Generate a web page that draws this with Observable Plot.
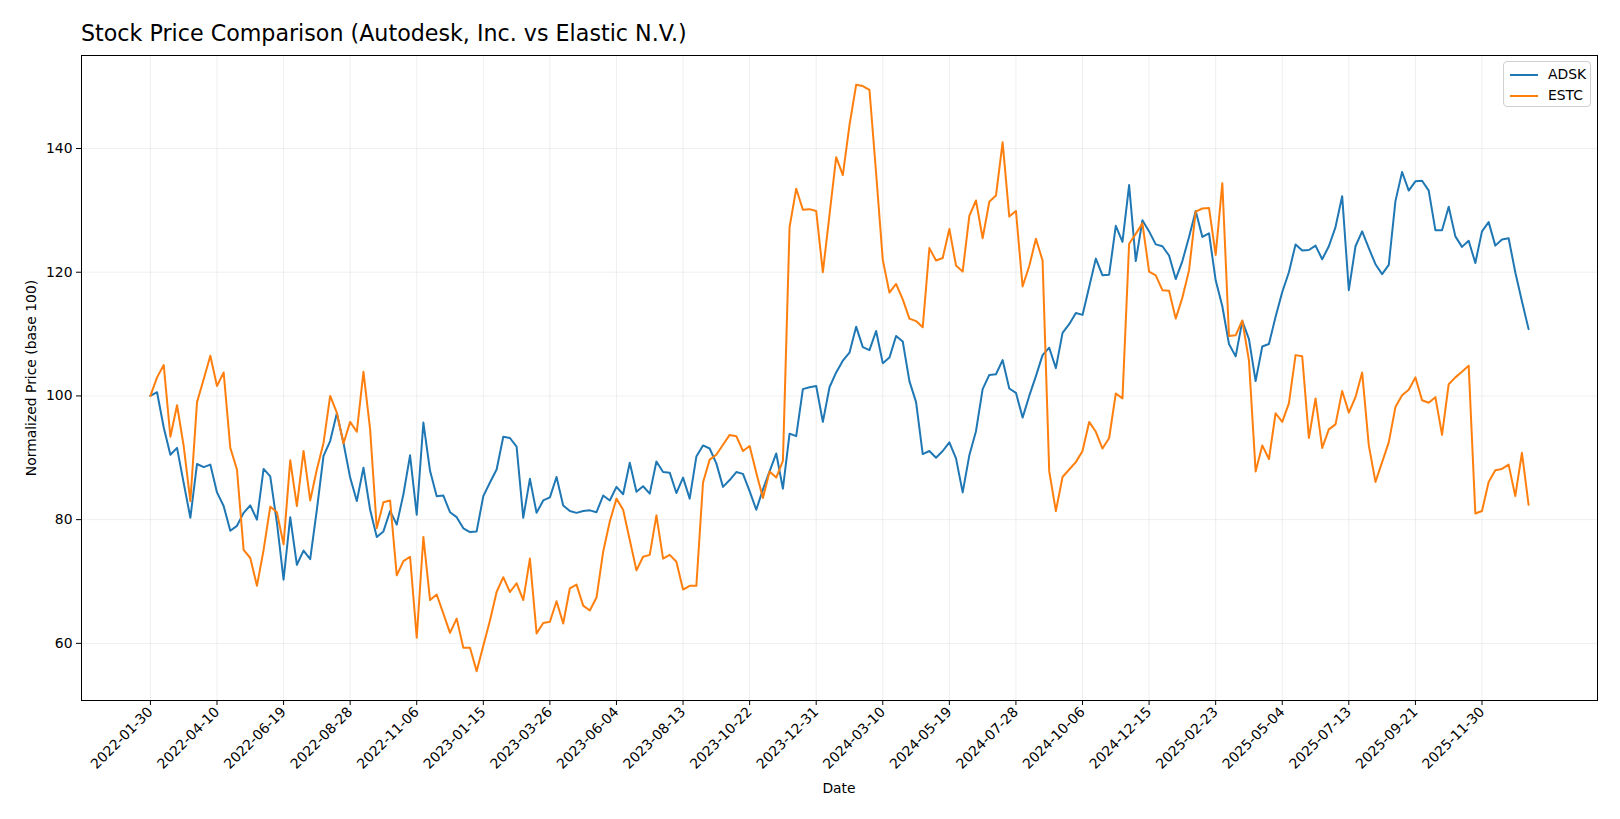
<!DOCTYPE html>
<html>
<head>
<meta charset="utf-8">
<script src="https://cdn.jsdelivr.net/npm/d3@7"></script>
<script src="https://cdn.jsdelivr.net/npm/@observablehq/plot@0.6"></script>
<style>
  html, body { margin: 0; padding: 0; background: #fff; overflow: hidden; }
  #wrap { position: relative; width: 1620px; height: 819px; font-family: "DejaVu Sans", sans-serif; overflow: hidden; }
  #chart { position: absolute; left: 0; top: 0; width: 1620px; height: 819px; }
  #chart svg { max-width: none !important; display: block; }
  #title { position: absolute; left: 81px; top: 22px; font-size: 22.2px; line-height: 22px; white-space: nowrap; color: #000; }
  #xlabel { position: absolute; left: 839px; top: 781px; transform: translateX(-50%); font-size: 13.9px; line-height: 14px; }
  #ylabel { position: absolute; left: 31px; top: 378px; transform: translate(-50%, -50%) rotate(-90deg); font-size: 13.9px; line-height: 14px; white-space: nowrap; }
  #legend { position: absolute; left: 1503px; top: 61px; width: 86px; height: 44px; border: 1px solid #d0d0d0; border-radius: 4px; background: rgba(255,255,255,0.85); font-size: 13.9px; }
  .row { position: absolute; left: 6px; height: 16px; line-height: 16px; white-space: nowrap; }
  .sw { display: inline-block; width: 28px; height: 2px; vertical-align: middle; margin-right: 10px; }
</style>
</head>
<body>
<div id="wrap">
  <div id="chart"></div>
  <div id="title">Stock Price Comparison (Autodesk, Inc. vs Elastic N.V.)</div>
  <div id="xlabel">Date</div>
  <div id="ylabel">Normalized Price (base 100)</div>
  <div id="legend">
    <div class="row" style="top:4px"><span class="sw" style="background:#1f77b4"></span>ADSK</div>
    <div class="row" style="top:25px"><span class="sw" style="background:#ff7f0e"></span>ESTC</div>
  </div>
</div>
<script>
const startDate = "2022-01-30";
const seriesNames = ["ADSK", "ESTC"];
const seriesColors = ["#1f77b4", "#ff7f0e"];

const adsk = [100,100.6,94.9,90.5,91.6,85.9,80.3,89.0,88.5,88.9,84.4,82.2,78.2,79.0,81.1,82.3,80.0,88.2,87.0,79.5,
70.3,80.4,72.7,75.0,73.6,81.6,90.3,92.7,97.2,92.4,86.8,83.0,88.4,81.6,77.2,78.1,81.4,79.2,84.1,90.4,
80.8,95.7,87.9,83.8,83.9,81.2,80.4,78.6,78.0,78.1,83.8,86.0,88.1,93.4,93.2,91.8,80.3,86.6,81.1,83.1,
83.6,86.9,82.3,81.4,81.1,81.4,81.5,81.2,83.9,83.1,85.3,84.1,89.2,84.5,85.4,84.2,89.4,87.7,87.6,84.3,
86.8,83.4,90.2,92.0,91.5,89.1,85.3,86.4,87.7,87.4,84.6,81.6,84.9,87.8,90.7,85.0,93.9,93.5,101.1,101.4,
101.6,95.8,101.4,103.8,105.7,107.0,111.2,107.9,107.4,110.5,105.3,106.2,109.7,108.8,102.4,99.0,90.6,91.1,90.0,91.1,
92.5,89.9,84.4,90.4,94.3,101.1,103.4,103.5,105.8,101.2,100.5,96.5,100.0,103.2,106.6,107.8,104.5,110.2,111.6,113.4,
113.1,117.6,122.2,119.5,119.6,127.5,124.9,134.1,121.8,128.4,126.6,124.5,124.2,122.7,118.9,121.8,125.7,129.9,125.7,126.3,
118.7,114.5,108.4,106.4,112.1,109.2,102.4,108.0,108.4,112.8,116.8,120.0,124.5,123.5,123.6,124.3,122.1,124.2,127.3,132.3,
117.1,124.2,126.6,123.9,121.3,119.7,121.2,131.5,136.2,133.2,134.7,134.8,133.2,126.8,126.8,130.6,125.8,124.1,125.1,121.5,
126.6,128.1,124.3,125.3,125.5,120.0,115.3,110.8];

const estc = [100,103.0,105.0,93.4,98.5,91.9,83.0,99.0,102.7,106.5,101.6,103.8,91.6,88.1,75.1,73.8,69.3,75.1,82.1,81.2,
76.0,89.6,82.2,91.1,83.1,88.1,92.4,100.0,97.3,92.3,95.8,94.2,103.9,94.6,78.6,82.8,83.1,71.0,73.3,74.0,
60.9,77.2,67.0,67.9,64.8,61.7,64.0,59.3,59.3,55.5,59.6,63.7,68.3,70.7,68.3,69.7,67.0,73.7,61.6,63.3,
63.5,66.8,63.2,68.9,69.5,66.1,65.3,67.4,74.8,79.7,83.4,81.6,76.7,71.8,74.0,74.3,80.7,73.7,74.3,73.2,
68.7,69.3,69.3,86.0,89.7,90.5,92.1,93.7,93.5,91.1,91.9,87.6,83.5,87.8,86.8,89.5,127.3,133.5,130.1,130.2,
129.9,120.0,129.3,138.6,135.7,143.8,150.3,150.1,149.5,136.0,122.0,116.7,118.1,115.6,112.5,112.1,111.1,123.9,121.9,122.3,
127.0,121.1,120.1,129.1,131.6,125.5,131.4,132.4,141.0,129.0,129.9,117.7,121.0,125.4,121.9,87.8,81.4,86.9,88.1,89.3,
91.1,95.8,94.2,91.5,93.2,100.4,99.6,124.6,126.2,127.9,120.1,119.5,117.1,117.0,112.5,115.9,120.3,129.8,130.3,130.4,
122.8,134.4,109.7,109.8,112.2,105.7,87.8,92.0,89.8,97.2,95.8,98.8,106.6,106.4,93.2,99.6,91.6,94.6,95.4,100.8,
97.3,99.8,103.8,92.0,86.1,89.3,92.5,98.2,100.1,101.0,103.0,99.3,98.9,99.8,93.7,101.9,103.0,103.9,104.9,81.0,
81.4,86.1,88.0,88.2,88.9,83.8,90.8,82.4];

const xTickLabels = ["2022-01-30","2022-04-10","2022-06-19","2022-08-28","2022-11-06","2023-01-15","2023-03-26",
"2023-06-04","2023-08-13","2023-10-22","2023-12-31","2024-03-10","2024-05-19","2024-07-28","2024-10-06",
"2024-12-15","2025-02-23","2025-05-04","2025-07-13","2025-09-21","2025-11-30"];
const yTicks = [60, 80, 100, 120, 140];

const t0 = new Date(startDate + "T00:00:00Z");
const dates = adsk.map((_, i) => d3.utcDay.offset(t0, 7 * i));
const rows = [];
[adsk, estc].forEach((vals, s) => vals.forEach((v, i) => rows.push({date: dates[i], value: v, series: seriesNames[s]})));
const xTicks = xTickLabels.map(s => new Date(s + "T00:00:00Z"));

const span = dates[dates.length - 1] - dates[0];
const xDomain = [new Date(+dates[0] - span * 0.05), new Date(+dates[dates.length - 1] + span * 0.05)];
const allVals = adsk.concat(estc);
const ymin = d3.min(allVals), ymax = d3.max(allVals), yr = ymax - ymin;
const yDomain = [ymin - yr * 0.05, ymax + yr * 0.05];

const chart = Plot.plot({
  width: 1620,
  height: 819,
  marginTop: 55,
  marginLeft: 81,
  marginRight: 23,
  marginBottom: 119,
  style: {fontFamily: "DejaVu Sans, sans-serif", fontSize: "13.9px", color: "#000", background: "#fff"},
  x: {type: "utc", domain: xDomain},
  y: {domain: yDomain},
  color: {domain: seriesNames, range: seriesColors},
  marks: [
    Plot.gridX(xTicks, {stroke: "#b0b0b0", strokeOpacity: 0.25, strokeWidth: 0.8}),
    Plot.gridY(yTicks, {stroke: "#b0b0b0", strokeOpacity: 0.25, strokeWidth: 0.8}),
    Plot.lineY(rows, {x: "date", y: "value", z: "series", stroke: "series", strokeWidth: 2}),
    Plot.frame({stroke: "#000", strokeWidth: 1}),
    Plot.axisX(xTicks, {tickFormat: d3.utcFormat("%Y-%m-%d"), tickRotate: -45, tickSize: 5, tickPadding: 4, label: null, fill: "#000"}),
    Plot.axisY(yTicks, {tickSize: 5, tickPadding: 4, label: null, fill: "#000"})
  ]
});
document.getElementById("chart").appendChild(chart);
</script>
</body>
</html>
